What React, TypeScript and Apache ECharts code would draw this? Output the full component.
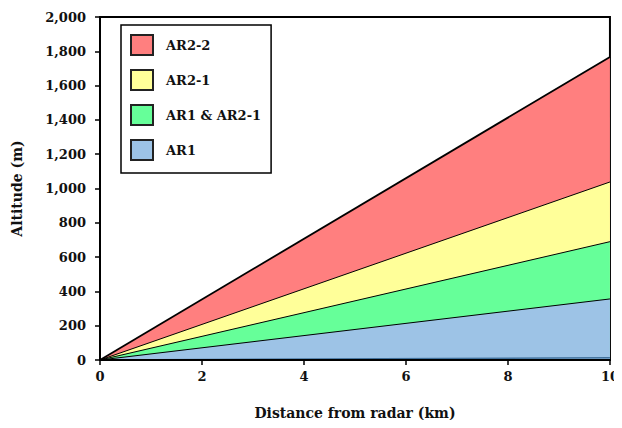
import React, { useEffect, useRef } from "react";
import * as echarts from "echarts";

const distances = [0, 10];
// upper boundary altitude (m) of each layer
const ar1Top = [0, 356];
const ar1Ar21Top = [0, 690];
const ar21Top = [0, 1038];
const ar22Top = [0, 1767];
const groundLine = [0, 13];
const legendNames = ["AR2-2", "AR2-1", "AR1 & AR2-1", "AR1"];

const FONT = "'DejaVu Serif', 'Liberation Serif', serif";

export default function App() {
  const ref = useRef<HTMLDivElement>(null);
  useEffect(() => {
    const chart = echarts.init(ref.current!, undefined, { renderer: "svg" });
    const pts = (a: number[]) => distances.map((x, i) => [x, a[i]]);
    const layer = (name: string, data: number[], color: string, lw: number, z: number) => ({
      name,
      type: "line",
      data: pts(data),
      symbol: "none",
      lineStyle: { color: "#000", width: lw },
      areaStyle: { color, opacity: 1, origin: "start" },
      itemStyle: { color, borderColor: "#222", borderWidth: 1.5 },
      z,
    });
    chart.setOption({
      animation: false,
      grid: {
        left: 100,
        right: 12,
        top: 17,
        bottom: 68,
        show: true,
        borderColor: "#000",
        borderWidth: 2,
        backgroundColor: "transparent",
      },
      legend: {
        data: legendNames,
        orient: "vertical",
        left: 121,
        top: 25,
        icon: "rect",
        itemWidth: 22,
        itemHeight: 20,
        itemGap: 13,
        padding: [9, 10, 12, 9],
        borderColor: "#000",
        borderWidth: 1.5,
        backgroundColor: "#fff",
        textStyle: { fontFamily: FONT, fontWeight: "bold", fontSize: 13, color: "#111", padding: [0, 0, 0, 8] },
        z: 10,
      },
      xAxis: {
        type: "value",
        min: 0,
        max: 10,
        interval: 2,
        name: "Distance from radar (km)",
        nameLocation: "middle",
        nameGap: 46,
        nameTextStyle: { fontFamily: FONT, fontWeight: "bold", fontSize: 14, color: "#111" },
        axisLine: { show: true, lineStyle: { color: "#000", width: 2 } },
        axisTick: { show: true, length: 5, lineStyle: { color: "#000", width: 1.5 } },
        axisLabel: { fontFamily: FONT, fontWeight: "bold", fontSize: 13, color: "#111", margin: 10 },
        splitLine: { show: false },
        z: 5,
      },
      yAxis: {
        type: "value",
        min: 0,
        max: 2000,
        interval: 200,
        name: "Altitude (m)",
        nameLocation: "middle",
        nameGap: 76,
        nameTextStyle: { fontFamily: FONT, fontWeight: "bold", fontSize: 14, color: "#111" },
        axisLine: { show: true, lineStyle: { color: "#000", width: 2 } },
        axisTick: { show: true, length: 5, lineStyle: { color: "#000", width: 1.5 } },
        axisLabel: {
          fontFamily: FONT,
          fontWeight: "bold",
          fontSize: 13,
          color: "#111",
          margin: 14,
          formatter: (v: number) => v.toLocaleString("en-US"),
        },
        splitLine: { show: false },
        z: 5,
      },
      series: [
        layer("AR2-2", ar22Top, "#FF7F7F", 1.8, 2),
        layer("AR2-1", ar21Top, "#FFFF99", 1, 2),
        layer("AR1 & AR2-1", ar1Ar21Top, "#66FF99", 1, 2),
        layer("AR1", ar1Top, "#9DC3E6", 1, 2),
        {
          name: "ground",
          type: "line",
          data: pts(groundLine),
          symbol: "none",
          lineStyle: { color: "#41719C", width: 1.5 },
          z: 3,
        },
      ],
    });
    return () => chart.dispose();
  }, []);
  return <div ref={ref} style={{ width: 622, height: 428, margin: -8 }} />;
}
